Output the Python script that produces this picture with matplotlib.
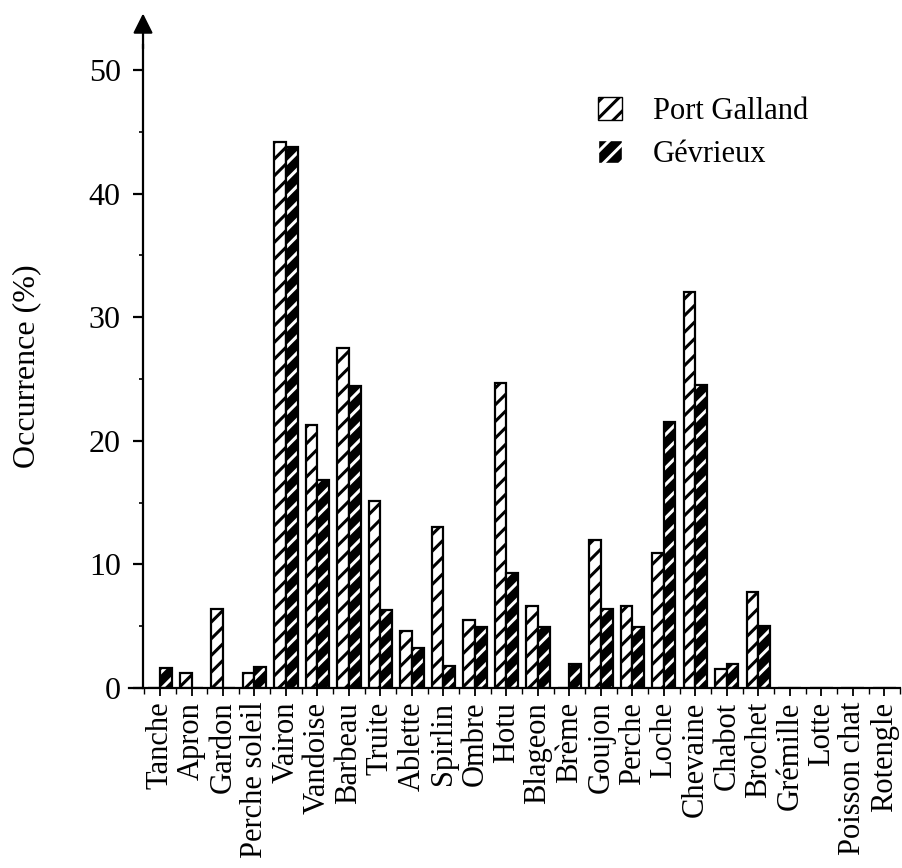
import numpy as np
import matplotlib
matplotlib.use("Agg")
import matplotlib.pyplot as plt
from matplotlib.patches import Patch
from matplotlib.ticker import MultipleLocator

species = ["Tanche", "Apron", "Gardon", "Perche soleil", "Vairon", "Vandoise",
           "Barbeau", "Truite", "Ablette", "Spirlin", "Ombre", "Hotu", "Blageon",
           "Brème", "Goujon", "Perche", "Loche", "Chevaine", "Chabot", "Brochet",
           "Grémille", "Lotte", "Poisson chat", "Rotengle"]
port_galland = [0, 1.2, 6.4, 1.2, 44.2, 21.3, 27.5, 15.1, 4.6, 13.0, 5.5, 24.7,
                6.6, 0, 12.0, 6.6, 10.9, 32.0, 1.5, 7.8, 0, 0, 0, 0]
gevrieux = [1.6, 0, 0, 1.7, 43.8, 16.8, 24.4, 6.3, 3.2, 1.8, 4.9, 9.3,
            4.9, 1.9, 6.4, 4.9, 21.5, 24.5, 1.9, 5.0, 0, 0, 0, 0]

plt.rcParams["font.family"] = ["Liberation Serif", "DejaVu Serif"]
plt.rcParams["hatch.linewidth"] = 2.2

fig = plt.figure(figsize=(9.02, 8.68), dpi=100)
ax = fig.add_axes([0.1425, 0.2074, 0.8553, 0.7404])

x = np.arange(len(species))
w = 0.37

# Port Galland: white with black stripes
ax.bar(x - w / 2, port_galland, w, facecolor="white", edgecolor="black",
       hatch="//", linewidth=0)
ax.bar(x - w / 2, port_galland, w, fill=False, edgecolor="black", linewidth=1.6)
# Gévrieux: black with white stripes
ax.bar(x + w / 2, gevrieux, w, facecolor="black", edgecolor="white",
       hatch="//", linewidth=0)
ax.bar(x + w / 2, gevrieux, w, fill=False, edgecolor="black", linewidth=1.6)

ax.set_xlim(-1, 23.5)
ax.set_ylim(0, 52)
ax.spines["top"].set_visible(False)
ax.spines["right"].set_visible(False)
ax.spines["left"].set_position(("data", -0.54))
ax.spines["left"].set_linewidth(1.6)
ax.spines["bottom"].set_linewidth(1.6)

ax.set_xticks(x)
ax.set_xticklabels(species, rotation=90, fontsize=22)
ax.xaxis.set_minor_locator(MultipleLocator(1, offset=0.5))
ax.tick_params(axis="x", which="major", length=6, width=1.3, pad=4)
ax.tick_params(axis="x", which="minor", length=4, width=1.0)

ax.set_yticks(np.arange(0, 51, 10))
ax.yaxis.set_minor_locator(MultipleLocator(5))
ax.tick_params(axis="y", which="major", length=7, width=1.6, labelsize=23, pad=9)
ax.tick_params(axis="y", which="minor", length=3, width=1.2)

ax.set_ylabel("Occurrence (%)", fontsize=23, labelpad=34)

ax.annotate("", xy=(-0.54, 54.8), xytext=(-0.54, 51.5),
            arrowprops=dict(arrowstyle="-|>", color="black", lw=1.6,
                            mutation_scale=30),
            annotation_clip=False)

handles = [Patch(facecolor="white", edgecolor="black", hatch="//"),
           Patch(facecolor="black", edgecolor="white", hatch="//")]
fig.legend(handles, ["Port Galland", "Gévrieux"], loc="upper left",
           bbox_to_anchor=(0.663, 0.888), frameon=False, fontsize=22,
           handlelength=0.8, handleheight=0.75, handletextpad=1.0,
           labelspacing=0.45, borderpad=0, borderaxespad=0)

fig.savefig("out.png", dpi=100)
